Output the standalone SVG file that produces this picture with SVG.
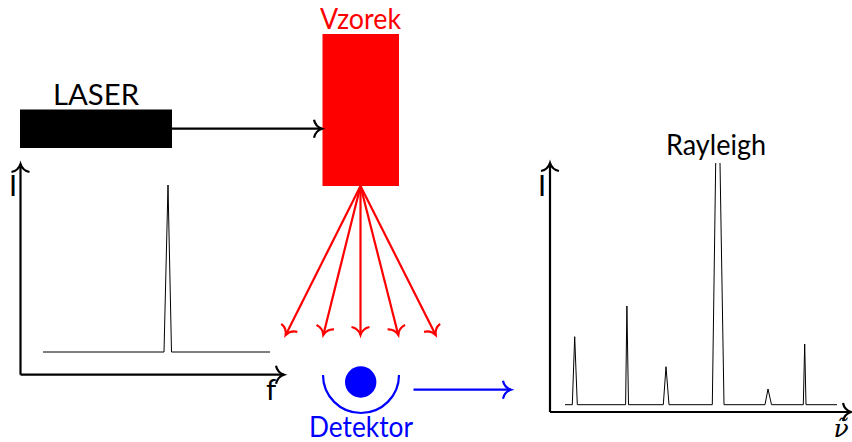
<svg xmlns="http://www.w3.org/2000/svg" width="852" height="442" viewBox="0 0 852 442">
<style>
text{font-family:"Lato","Open Sans",sans-serif;font-size:29px;font-weight:400;text-anchor:middle}
.ax{fill:none;stroke:#000;stroke-width:2.2;stroke-linejoin:round}
.sp{fill:none;stroke:#000;stroke-width:1}
.r{fill:none;stroke:#f00;stroke-width:2.2}
.b{fill:none;stroke:#00f;stroke-width:2.2}
</style>
<defs>
<marker id="hk" markerUnits="userSpaceOnUse" viewBox="-10 -10 12 20" refX="0" refY="0" markerWidth="12" markerHeight="20" orient="auto" overflow="visible"><path d="M-8,-9 C-7,-4 -3,-1 0,0 C-3,1 -7,4 -8,9" fill="none" stroke="#000" stroke-width="2.2"/></marker>
<marker id="hr" markerUnits="userSpaceOnUse" viewBox="-10 -10 12 20" refX="0" refY="0" markerWidth="12" markerHeight="20" orient="auto" overflow="visible"><path d="M-8,-9 C-7,-4 -3,-1 0,0 C-3,1 -7,4 -8,9" fill="none" stroke="#f00" stroke-width="2.2"/></marker>
<marker id="hb" markerUnits="userSpaceOnUse" viewBox="-10 -10 12 20" refX="0" refY="0" markerWidth="12" markerHeight="20" orient="auto" overflow="visible"><path d="M-8,-9 C-7,-4 -3,-1 0,0 C-3,1 -7,4 -8,9" fill="none" stroke="#00f" stroke-width="2.2"/></marker>
</defs>
<g id="laser"><rect x="20" y="109.5" width="152" height="38.5" fill="#000"/><text x="96" y="105" textLength="86" lengthAdjust="spacingAndGlyphs">LASER</text></g>
<g id="vzorek"><rect x="322.5" y="34" width="76.5" height="152" fill="#f00"/><text x="360.5" y="29" fill="#f00" textLength="81" lengthAdjust="spacingAndGlyphs">Vzorek</text></g>
<g id="detektor"><circle cx="360.7" cy="382" r="15.7" fill="#00f"/><path class="b" d="M323,375 A38,38 0 0 0 399,375"/><text x="361" y="437" fill="#00f" textLength="104" lengthAdjust="spacingAndGlyphs">Detektor</text></g>
<g id="spectrum-left"><path class="ax" d="M20.5,374.7 H284" marker-end="url(#hk)"/><path class="ax" d="M20.5,374.7 V164" marker-end="url(#hk)"/><path class="sp" d="M43,352 H164 L168,185 L171.5,352 H270"/><text x="13" y="196">I</text><text x="271" y="400">f</text></g>
<g id="spectrum-right"><path class="ax" d="M550,412 H851" marker-end="url(#hk)"/><path class="ax" d="M550,412 V163" marker-end="url(#hk)"/><path class="sp" d="M565,404.7 H572.3 L574.7,336.7 L577.3,404.7 H625.6 L626.9,306 L628.5,404.7 H663.3 L666,366.7 L669,404.7 H712.3 L715.7,163 M720,163 L724,404.7 H765 L768,389 L771.5,404.7 H803.3 L804.7,344 L806,404.7 H837"/><text x="716" y="155" textLength="100" lengthAdjust="spacingAndGlyphs">Rayleigh</text><text x="542" y="196">I</text><text x="841" y="437" style="font-family:'DejaVu Serif',serif;font-style:italic;font-size:25px">ν̃</text></g>
<g id="connectors"><path class="ax" d="M172,128.7 H322" marker-end="url(#hk)"/><path class="r" d="M360.5,186 L285.7,335" marker-end="url(#hr)"/><path class="r" d="M360.5,186 L323.3,335" marker-end="url(#hr)"/><path class="r" d="M360.5,186 V335" marker-end="url(#hr)"/><path class="r" d="M360.5,186 L398.3,335" marker-end="url(#hr)"/><path class="r" d="M360.5,186 L435.7,335" marker-end="url(#hr)"/><path class="b" d="M413.5,389.7 H511" marker-end="url(#hb)"/></g>
</svg>
